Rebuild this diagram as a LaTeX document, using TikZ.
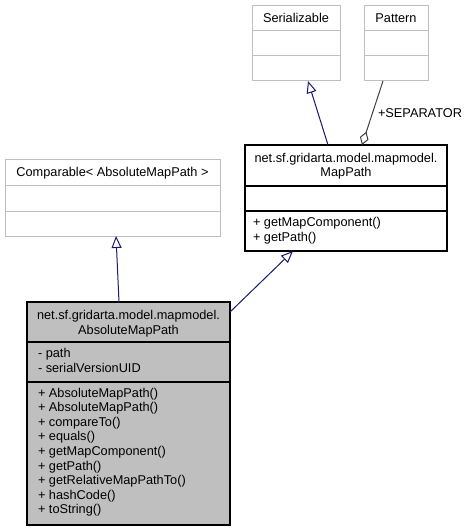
\documentclass[tikz,border=0pt]{standalone}
\usepackage{fontspec}
\setmainfont{Liberation Sans}
\usetikzlibrary{arrows.meta}
\definecolor{gvgrey}{HTML}{BFBFBF}
\definecolor{gvblue}{HTML}{191970}
\definecolor{gvdark}{HTML}{404040}
\begin{document}
\begin{tikzpicture}[x=1bp,y=-1bp,
  every node/.style={font=\fontsize{12.8}{14.5}\selectfont, inner sep=0pt, outer sep=0pt},
  extbox/.style={draw=gvgrey, fill=white, line width=1bp, anchor=north west, rectangle},
  mainbox/.style={draw=black, line width=1.3bp, anchor=north west, rectangle},
  greydiv/.style={draw=gvgrey, line width=1bp},
  blackdiv/.style={draw=black, line width=1.3bp},
  inh/.style={draw=gvblue, line width=1bp, -{Triangle[open, length=12bp, width=10bp]}},
  agg/.style={draw=gvdark, line width=1bp, -{Diamond[open, length=14bp, width=9bp]}},
  ctext/.style={anchor=base},
  ltext/.style={anchor=base west}]
\useasboundingbox (0,0) rectangle (473,531);

% Serializable
\node[extbox, minimum width=88bp, minimum height=75bp] (ser) at (252,6) {};
\draw[greydiv] (ser.west |- 0,31) -- (ser.east |- 0,31);
\draw[greydiv] (ser.west |- 0,56) -- (ser.east |- 0,56);
\node[ctext] (sert) at (296,23) {Serializable};

% Pattern
\node[extbox, minimum width=64bp, minimum height=75bp] (pat) at (364,6) {};
\draw[greydiv] (pat.west |- 0,31) -- (pat.east |- 0,31);
\draw[greydiv] (pat.west |- 0,56) -- (pat.east |- 0,56);
\node[ctext] (patt) at (396,23) {Pattern};

% Comparable
\node[extbox, minimum width=215bp, minimum height=76bp] (cmp) at (5,160) {};
\draw[greydiv] (cmp.west |- 0,186) -- (cmp.east |- 0,186);
\draw[greydiv] (cmp.west |- 0,211) -- (cmp.east |- 0,211);
\node[ctext] (cmpt) at (112.5,177) {Comparable< AbsoluteMapPath >};

% MapPath
\node[mainbox, fill=white, minimum width=202bp, minimum height=106bp] (mp) at (245,145) {};
\draw[blackdiv] (mp.west |- 0,186) -- (mp.east |- 0,186);
\draw[blackdiv] (mp.west |- 0,211) -- (mp.east |- 0,211);
\node[ctext] (mpt1) at (346,162.5) {net.sf.gridarta.model.mapmodel.};
\node[ctext] (mpt2) at (346,177) {MapPath};
\node[ltext] (mpm1) at (253,226.5) {+ getMapComponent()};
\node[ltext] (mpm2) at (253,241) {+ getPath()};

% AbsoluteMapPath
\node[mainbox, fill=gvgrey, minimum width=203bp, minimum height=223bp] (abs) at (27,302) {};
\draw[blackdiv] (abs.west |- 0,342) -- (abs.east |- 0,342);
\draw[blackdiv] (abs.west |- 0,382) -- (abs.east |- 0,382);
\node[ctext] (abst1) at (128.5,319.5) {net.sf.gridarta.model.mapmodel.};
\node[ctext] (abst2) at (128.5,334) {AbsoluteMapPath};
\node[ltext] (absa1) at (38,357.5) {- path};
\node[ltext] (absa2) at (38,372) {- serialVersionUID};
\node[ltext] (absm1) at (38,397) {+ AbsoluteMapPath()};
\node[ltext] (absm2) at (38,411.6) {+ AbsoluteMapPath()};
\node[ltext] (absm3) at (38,426.2) {+ compareTo()};
\node[ltext] (absm4) at (38,440.8) {+ equals()};
\node[ltext] (absm5) at (38,455.4) {+ getMapComponent()};
\node[ltext] (absm6) at (38,470) {+ getPath()};
\node[ltext] (absm7) at (38,484.6) {+ getRelativeMapPathTo()};
\node[ltext] (absm8) at (38,499.2) {+ hashCode()};
\node[ltext] (absm9) at (38,513.8) {+ toString()};

% connectors
\draw[inh] ([xshift=92bp]abs.north west) -- ([xshift=111bp]cmp.south west);
\draw[inh] ([yshift=-10bp]abs.north east) -- ([xshift=48bp]mp.south west);
\draw[inh] ([xshift=83bp]mp.north west) -- ([xshift=56bp]ser.south west);
\draw[agg] ([xshift=19bp]pat.south west) -- ([xshift=117bp]mp.north west);
\node[ltext] (seplbl) at (378,117.5) {+SEPARATOR};
\end{tikzpicture}
\end{document}
